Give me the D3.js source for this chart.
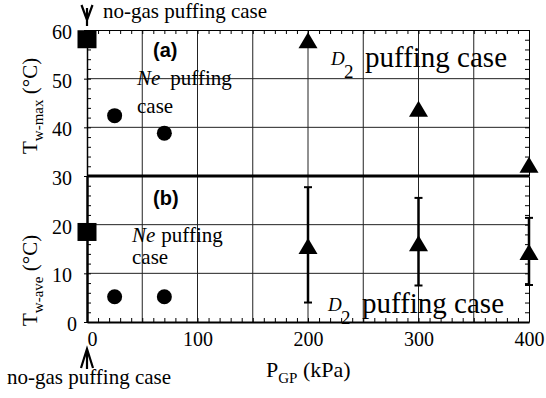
<!DOCTYPE html>
<html>
<head>
<meta charset="utf-8">
<script src="https://cdn.jsdelivr.net/npm/d3@7"></script>
<style>
  body { margin: 0; background: #fff; }
  text { font-family: "Liberation Serif", "Times New Roman", serif; fill: #000; }
</style>
</head>
<body>
<div id="chart"></div>
<script>
// no-gas puffing case (P = 0)
const noGasP = [0];
const noGasMax = [58.1];
const noGasAve = [18.5];

// Ne puffing case
const neP = [25, 70];
const neMax = [42.4, 38.8];
const neAve = [5.2, 5.2];

// D2 puffing case
const d2P = [200, 300, 400];
const d2Max = [57.9, 43.8, 32.3];
const d2Ave = [15.6, 16.2, 14.4];
const d2AveLo = [4.0, 7.5, 7.6];
const d2AveHi = [27.7, 25.5, 21.4];

const xTicks = [0, 100, 200, 300, 400];
const yTicksTop = [40, 50, 60];
const yTicksBot = [0, 10, 20, 30];

const width = 546, height = 398;
const marginLeft = 87, marginRight = 17, marginTop = 30, marginBottom = 76;
const midY = 176; // where the two panels meet (30 °C)

const x = d3.scaleLinear([0, 400], [marginLeft, width - marginRight]);
const yTop = d3.scaleLinear([30, 60], [midY, marginTop]);
const yBot = d3.scaleLinear([0, 30], [height - marginBottom, midY]);

const svg = d3.select("#chart").append("svg")
    .attr("width", width)
    .attr("height", height);

// grid
const grid = svg.append("g").attr("stroke", "#222").attr("stroke-width", 1);
grid.selectAll(".gx")
  .data(d3.range(50, 400, 50))
  .join("line")
    .attr("x1", d => x(d)).attr("x2", d => x(d))
    .attr("y1", marginTop).attr("y2", height - marginBottom);
grid.selectAll(".gyt")
  .data([40, 50])
  .join("line").attr("class", "gyt")
    .attr("x1", x(0)).attr("x2", x(400))
    .attr("y1", d => yTop(d)).attr("y2", d => yTop(d));
grid.selectAll(".gyb")
  .data([10, 20])
  .join("line").attr("class", "gyb")
    .attr("x1", x(0)).attr("x2", x(400))
    .attr("y1", d => yBot(d)).attr("y2", d => yBot(d));

// minor ticks, all four sides, pointing inward
const minor = (g, w) => g.call(g => g.select(".domain").attr("stroke-width", w))
  .call(g => g.selectAll(".tick line").attr("stroke-width", 1));

svg.append("g").attr("transform", `translate(0,${height - marginBottom})`)
  .call(d3.axisBottom(x).tickValues(d3.range(0, 401, 10)).tickSize(-4).tickSizeOuter(0).tickFormat(""))
  .call(minor, 2);
svg.append("g").attr("transform", `translate(0,${marginTop})`)
  .call(d3.axisTop(x).tickValues(d3.range(0, 401, 10)).tickSize(-4).tickSizeOuter(0).tickFormat(""))
  .call(minor, 1);
svg.append("g").attr("transform", `translate(${x(400)},0)`)
  .call(d3.axisRight(yTop).tickValues(d3.range(30, 61, 2)).tickSize(-4).tickSizeOuter(0).tickFormat(""))
  .call(minor, 1);
svg.append("g").attr("transform", `translate(${x(400)},0)`)
  .call(d3.axisRight(yBot).tickValues(d3.range(0, 31, 2)).tickSize(-4).tickSizeOuter(0).tickFormat(""))
  .call(minor, 1);
svg.append("g").attr("transform", `translate(${x(0)},0)`)
  .call(d3.axisLeft(yTop).tickValues(d3.range(30, 61, 2)).tickSize(-4).tickSizeOuter(0).tickFormat(""))
  .call(minor, 1.5);
svg.append("g").attr("transform", `translate(${x(0)},0)`)
  .call(d3.axisLeft(yBot).tickValues(d3.range(0, 31, 2)).tickSize(-4).tickSizeOuter(0).tickFormat(""))
  .call(minor, 2.5);

// labelled axes
const labels = g => g.call(g => g.select(".domain").remove())
  .call(g => g.selectAll("text").attr("font-size", 20)
    .attr("font-family", "Liberation Serif, Times New Roman, serif"));

svg.append("g").attr("transform", `translate(0,${height - marginBottom})`)
  .call(d3.axisBottom(x).tickValues(xTicks).tickSize(0).tickPadding(10))
  .call(labels)
  .call(g => g.selectAll(".tick text").filter(d => d === 0).attr("dx", 5));
svg.append("g").attr("transform", `translate(${x(0)},0)`)
  .call(d3.axisLeft(yTop).tickValues(yTicksTop).tickSize(3).tickPadding(12))
  .call(labels)
  .call(g => g.selectAll(".tick text").attr("dy", "0.42em"));
svg.append("g").attr("transform", `translate(${x(0)},0)`)
  .call(d3.axisLeft(yBot).tickValues(yTicksBot).tickSize(3).tickPadding(12))
  .call(labels)
  .call(g => g.selectAll(".tick text").attr("dy", "0.42em"))
  .call(g => g.selectAll(".tick text").filter(d => d === 0).attr("dx", 5));

// thick divider at 30 °C
svg.append("line")
  .attr("x1", x(0)).attr("x2", x(400))
  .attr("y1", yBot(30)).attr("y2", yBot(30))
  .attr("stroke", "#000").attr("stroke-width", 3);

// error bars (bottom panel, D2)
const eb = svg.append("g").attr("stroke", "#000");
d2P.forEach((p, i) => {
  eb.append("line").attr("x1", x(p)).attr("x2", x(p))
    .attr("y1", yBot(d2AveLo[i])).attr("y2", yBot(d2AveHi[i])).attr("stroke-width", 2.5);
  [d2AveLo[i], d2AveHi[i]].forEach(v => eb.append("line")
    .attr("x1", x(p) - 4).attr("x2", x(p) + 4)
    .attr("y1", yBot(v)).attr("y2", yBot(v)).attr("stroke-width", 2));
});

// markers
const tri = (cx, cy) => `M${cx},${cy - 8}L${cx + 9.5},${cy + 8}L${cx - 9.5},${cy + 8}Z`;
const marks = svg.append("g").attr("fill", "#000");

marks.selectAll(".sqT").data(noGasP).join("rect").attr("class", "sqT")
  .attr("x", d => x(d) - 9.5).attr("y", (d, i) => yTop(noGasMax[i]) - 9)
  .attr("width", 19).attr("height", 18);
marks.selectAll(".sqB").data(noGasP).join("rect").attr("class", "sqB")
  .attr("x", d => x(d) - 9.5).attr("y", (d, i) => yBot(noGasAve[i]) - 9)
  .attr("width", 19).attr("height", 18);

marks.selectAll(".ciT").data(neP).join("circle").attr("class", "ciT")
  .attr("cx", d => x(d)).attr("cy", (d, i) => yTop(neMax[i])).attr("r", 7.5);
marks.selectAll(".ciB").data(neP).join("circle").attr("class", "ciB")
  .attr("cx", d => x(d)).attr("cy", (d, i) => yBot(neAve[i])).attr("r", 7.5);

marks.selectAll(".trT").data(d2P).join("path").attr("class", "trT")
  .attr("d", (d, i) => tri(x(d), yTop(d2Max[i])));
marks.selectAll(".trB").data(d2P).join("path").attr("class", "trB")
  .attr("d", (d, i) => tri(x(d), yBot(d2Ave[i])));

// annotations
const note = (px, py, size, str) => svg.append("text")
  .attr("x", px).attr("y", py).attr("font-size", size).text(str);

note(103, 18, 21, "no-gas puffing case");
note(7, 384, 21, "no-gas puffing case");

// arrows pointing at P = 0
const ax = x(0);
svg.append("path")
  .attr("d", `M${ax - 5.5},5L${ax},20L${ax + 5.5},5M${ax},8V26`)
  .attr("fill", "none").attr("stroke", "#000").attr("stroke-width", 2.2);
svg.append("path")
  .attr("d", `M${ax - 6},368L${ax},349L${ax + 6},368M${ax},349V369`)
  .attr("fill", "none").attr("stroke", "#000").attr("stroke-width", 2.2);

svg.append("text").attr("x", 153).attr("y", 57)
  .attr("font-size", 20).attr("font-weight", "bold")
  .style("font-family", "Liberation Sans, Arial, sans-serif").text("(a)");
svg.append("text").attr("x", 153).attr("y", 205)
  .attr("font-size", 20).attr("font-weight", "bold")
  .style("font-family", "Liberation Sans, Arial, sans-serif").text("(b)");

const neLabel = (px, py, gap, py2) => {
  const t = svg.append("text").attr("x", px).attr("y", py).attr("font-size", 21);
  t.append("tspan").attr("font-style", "italic").text("Ne");
  t.append("tspan").attr("dx", gap).text("puffing");
  note(px, py2, 21, "case");
};
neLabel(137, 85, 10, 113);
neLabel(132, 242, 6, 264);

const d2Label = (px, py) => {
  svg.append("text").attr("x", px).attr("y", py - 2)
    .attr("font-size", 19).attr("font-style", "italic").text("D");
  svg.append("text").attr("x", px + 13).attr("y", py + 11)
    .attr("font-size", 19).text("2");
  note(px + 34, py, 29, "puffing case");
};
d2Label(331, 67);
d2Label(328, 313);

// axis titles
const xt = svg.append("text").attr("x", 266).attr("y", 377).attr("font-size", 22);
xt.append("tspan").text("P");
xt.append("tspan").attr("font-size", 15).attr("dy", 6).text("GP");
xt.append("tspan").attr("dy", -6).text(" (kPa)");

const yTitle = (py, sub) => {
  const t = svg.append("text")
    .attr("transform", `translate(37,${py}) rotate(-90)`)
    .attr("font-size", 21);
  t.append("tspan").text("T");
  t.append("tspan").attr("font-size", 15).attr("dy", 6).text(sub);
  t.append("tspan").attr("dy", -6).text("  (°C)");
};
yTitle(154, "w-max");
yTitle(326, "w-ave");
</script>
</body>
</html>
